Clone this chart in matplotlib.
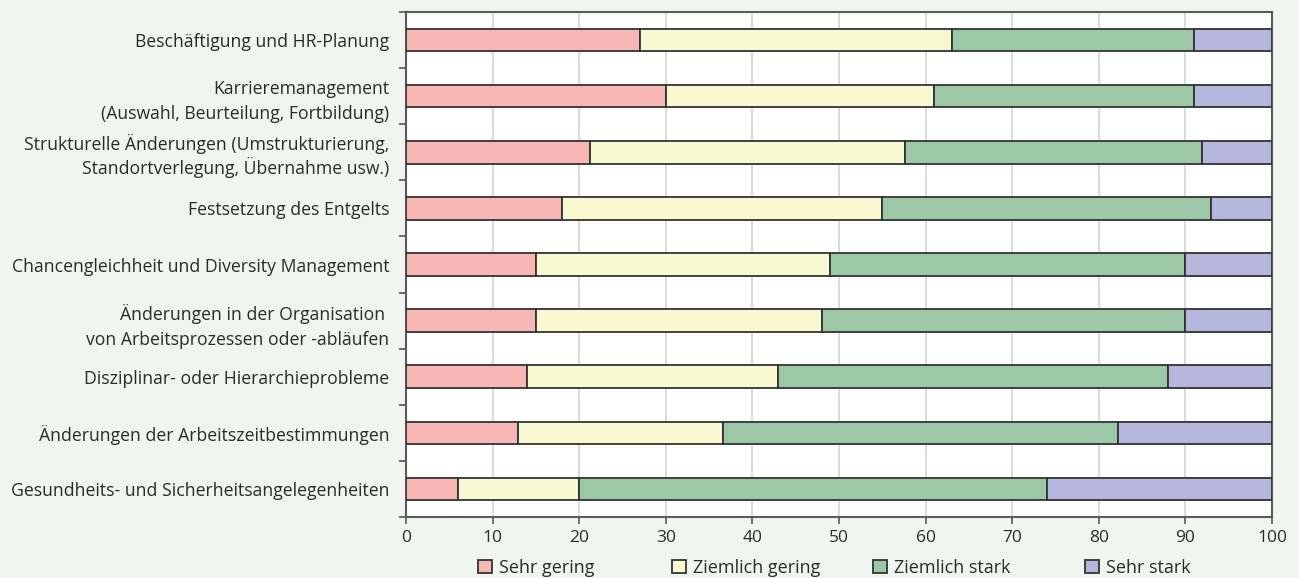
import matplotlib
matplotlib.use("Agg")
import matplotlib.pyplot as plt
from matplotlib.patches import Patch
import numpy as np

plt.rcParams['font.family'] = ['Open Sans', 'DejaVu Sans']

categories = [
    "Beschäftigung und HR-Planung",
    "Karrieremanagement\n(Auswahl, Beurteilung, Fortbildung)",
    "Strukturelle Änderungen (Umstrukturierung,\nStandortverlegung, Übernahme usw.)",
    "Festsetzung des Entgelts",
    "Chancengleichheit und Diversity Management",
    "Änderungen in der Organisation \nvon Arbeitsprozessen oder -abläufen",
    "Disziplinar- oder Hierarchieprobleme",
    "Änderungen der Arbeitszeitbestimmungen",
    "Gesundheits- und Sicherheitsangelegenheiten",
]
sehr_gering = [27, 30, 21.2, 18, 15, 15, 14, 12.9, 6]
ziemlich_gering = [36, 31, 36.4, 37, 34, 33, 29, 23.7, 14]
ziemlich_stark = [28, 30, 34.3, 38, 41, 42, 45, 45.6, 54]
sehr_stark = [9, 9, 8.1, 7, 10, 10, 12, 17.8, 26]

series_names = ["Sehr gering", "Ziemlich gering", "Ziemlich stark", "Sehr stark"]
series_colors = ["#F8B6B4", "#FAF8D0", "#9CC8A8", "#B5B8DC"]
x_ticks = [0, 10, 20, 30, 40, 50, 60, 70, 80, 90, 100]

bg = "#F1F5EF"
text_col = "#2b2b2b"
edge_col = "#333333"

fig = plt.figure(figsize=(12.99, 5.78), dpi=100, facecolor=bg)
ax = fig.add_axes([406 / 1299, 61 / 578, 866 / 1299, 505 / 578])
ax.set_facecolor("white")

y = np.arange(len(categories))
left = np.zeros(len(categories))
for vals, name, col in zip([sehr_gering, ziemlich_gering, ziemlich_stark, sehr_stark],
                           series_names, series_colors):
    ax.barh(y, vals, left=left, height=0.4, color=col, edgecolor=edge_col,
            linewidth=1.3, label=name, zorder=3)
    left += np.array(vals)

ax.set_xlim(0, 100)
ax.set_ylim(len(categories) - 0.5, -0.5)
ax.set_xticks(x_ticks)
ax.set_xticklabels([str(t) for t in x_ticks], fontsize=12.5, color=text_col)
ax.set_yticks(y)
ax.set_yticklabels(categories, fontsize=12.7, color=text_col, linespacing=1.5)
# keep even line spacing when the second line starts with an umlaut capital
for lbl in ax.get_yticklabels():
    lines = lbl.get_text().split("\n")
    if len(lines) > 1 and any(c in lines[1] for c in "ÄÖÜ"):
        lbl.set_linespacing(1.18)
ax.set_yticks(np.arange(len(categories) + 1) - 0.5, minor=True)
ax.tick_params(axis='y', which='major', length=0, pad=12)
ax.tick_params(axis='y', which='minor', length=5, width=1.2, color="#555555")
ax.tick_params(axis='x', which='major', length=5, width=1.2, color="#555555", pad=4)

ax.grid(axis='x', color="#d4d4d4", linewidth=1.2, zorder=0)
for s in ax.spines.values():
    s.set_color("#5a5a5a")
    s.set_linewidth(1.5)

# legend entries laid out along the bottom
legend_x = [478, 672, 873, 1085]
for name, col, lx in zip(series_names, series_colors, legend_x):
    h = Patch(facecolor=col, edgecolor=edge_col, linewidth=1.3)
    fig.legend([h], [name], loc='center left', bbox_to_anchor=(lx / 1299, 10 / 578),
               frameon=False, fontsize=13, handlelength=0.75, handleheight=0.75,
               handletextpad=0.4, borderpad=0, borderaxespad=0, labelcolor=text_col)

fig.savefig("out.png", dpi=100, facecolor=bg)
